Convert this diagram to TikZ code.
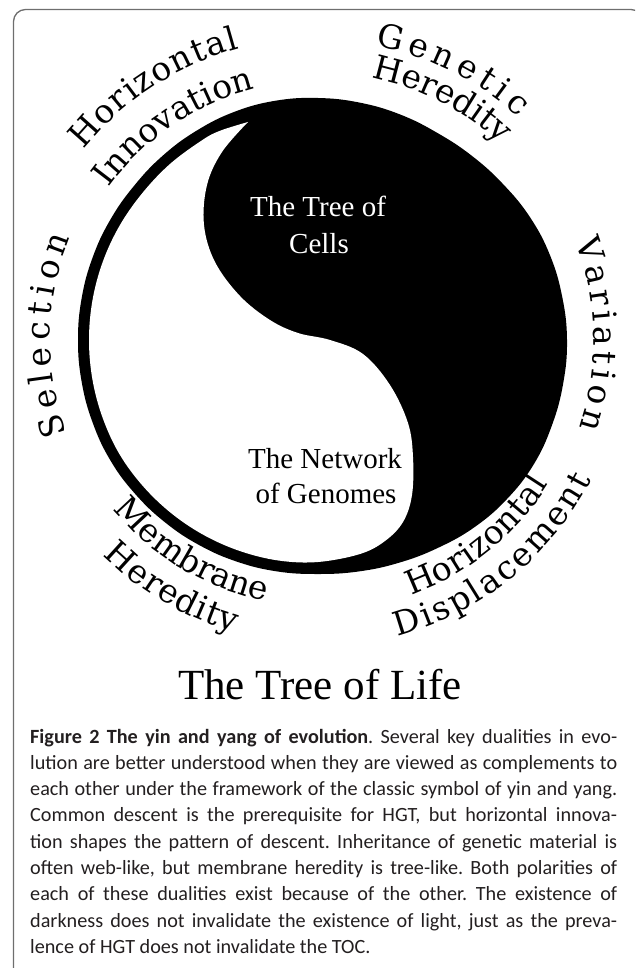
\documentclass[tikz,border=0pt]{standalone}
\usepackage{fontspec}
\setmainfont{Liberation Serif}
\newfontfamily\arcfont{DejaVu Serif}
\newfontfamily\capfont{Carlito}
\usetikzlibrary{decorations.text}
\definecolor{framegray}{HTML}{6E6E6E}
\definecolor{captext}{HTML}{231F20}
\tikzset{
  arclabel/.style={decorate, decoration={text along path, text align={fit to path},
      text={|\arcfont\fontsize{33}{38}\selectfont|#1}}},
  inner/.style={font=\fontsize{29}{35}\selectfont, inner sep=0pt, anchor=base},
  capline/.style={font=\capfont\fontsize{20.2}{26}\selectfont, text=captext, inner sep=0pt, anchor=base west},
}
\newcommand{\capw}[1]{\makebox[587pt][s]{#1}}
\begin{document}
\frenchspacing
\begin{tikzpicture}[x=1pt,y=1pt]
\useasboundingbox (0,0) rectangle (635,-968);
\begin{scope}
  \clip (0,0) rectangle (635,-968);
  \draw[framegray, line width=1.3pt, rounded corners=12pt] (13.5,-9.5) rectangle (643,-1000);
\end{scope}

\coordinate (C) at (318,-340);
\begin{scope}[shift={(C)}]
% outer black shape
\fill[black] plot[smooth cycle, tension=0.7] coordinates {
 (0:249) (10:248) (20:247) (30:245) (40:242) (50:240) (60:239) (70:240) (80:241)
 (90:242) (100:243) (110:243) (120:242) (130:241) (140:240) (150:240) (160:240)
 (170:240) (180:240) (190:240) (200:240) (210:240) (220:239) (230:238) (240:237)
 (250:236) (260:235) (270:234) (280:235) (290:237) (300:240) (310:244) (320:247)
 (330:249) (340:249) (350:249)};

% white teardrop
\fill[white] plot[smooth, tension=0.6] coordinates {
 (-70,218) (115:231) (120:231) (130:230) (140:229) (150:229) (160:229) (170:229)
 (180:229) (190:229) (200:229) (210:229) (220:228) (230:227) (240:226) (250:225)
 (260:224) (270:222) (42,-214) (67,-201) (85,-182) (94,-155) (95,-117) (90,-83)
 (72,-45) (45,-14) (12,0) (-20,7) (-48,20) (-78,44) (-103,78) (-114,115)
 (-111,155) (-96,188) (-70,218)} -- cycle;

  \path[arclabel=Horizontal] (141:302) arc[start angle=141, end angle=105, radius=302];
  \path[arclabel=Innovation] (144:259) arc[start angle=144, end angle=104, radius=259];
  \path[arclabel=Genetic] (79:300) arc[start angle=79, end angle=48, radius=300];
  \path[arclabel=Heredity] (78.5:268) arc[start angle=78.5, end angle=47, radius=268];
  \path[arclabel=Variation] (21:276) arc[start angle=21, end angle=-18.5, radius=276];
  \path[arclabel=Selection] (200.5:268) arc[start angle=200.5, end angle=157.5, radius=268];
  \path[arclabel=Membrane] (219.5:266) arc[start angle=219.5, end angle=258, radius=266];
  \path[arclabel=Heredity] (225:304) arc[start angle=225, end angle=254, radius=304];
  \path[arclabel=Horizontal] (290:272) arc[start angle=290, end angle=328, radius=272];
  \path[arclabel=Displacement] (285:307) arc[start angle=285, end angle=333, radius=307];
\end{scope}

\node[inner, text=white] (tc1) at (318,-217) {The Tree of};
\node[inner, text=white] (tc2) at (319,-253) {Cells};
\node[inner] (ng1) at (325,-468) {The Network};
\node[inner] (ng2) at (326,-503) {of Genomes};

\node[font=\fontsize{43}{50}\selectfont, inner sep=0pt, anchor=base] (title) at (320,-699) {The Tree of Life};

\node[capline] (c1) at (30,-743) {\capw{\textbf{Figure 2 The yin and yang of evolution}. Several key dualities in evo-}};
\node[capline] (c2) at (30,-769.3) {\capw{lution are better understood when they are viewed as complements to}};
\node[capline] (c3) at (30,-795.6) {\capw{each other under the framework of the classic symbol of yin and yang.}};
\node[capline] (c4) at (30,-821.9) {\capw{Common descent is the prerequisite for HGT, but horizontal innova-}};
\node[capline] (c5) at (30,-848.2) {\capw{tion shapes the pattern of descent. Inheritance of genetic material is}};
\node[capline] (c6) at (30,-874.5) {\capw{often web-like, but membrane heredity is tree-like. Both polarities of}};
\node[capline] (c7) at (30,-900.8) {\capw{each of these dualities exist because of the other. The existence of}};
\node[capline] (c8) at (30,-927.1) {\capw{darkness does not invalidate the existence of light, just as the preva-}};
\node[capline] (c9) at (30,-953.4) {lence of HGT does not invalidate the TOC.};
\end{tikzpicture}
\end{document}
